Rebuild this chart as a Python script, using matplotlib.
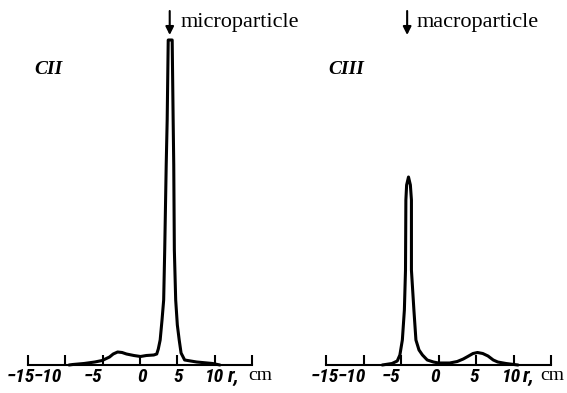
import matplotlib
matplotlib.use('Agg')
import matplotlib.pyplot as plt

# --- data (r in cm, intensity in arbitrary units) ---
r_micro = [-9.5, -9.0, -7.5, -6.05, -5.07, -4.08, -3.59, -3.0, -2.4, -1.81, -0.82, 0.07,
           0.85, 1.84, 2.24, 2.45, 2.7, 2.95, 3.17, 3.31, 3.51, 3.64, 3.78,
           4.31, 4.44, 4.52, 4.6, 4.78, 5.0, 5.25, 5.5, 5.98, 7.59, 9.73, 10.7]
i_micro = [0, 0.5, 1.5, 3, 4.5, 8, 11, 13, 12.5, 11, 9.5, 8.5,
           9.5, 10, 11, 16, 25, 45, 65, 115, 200, 245, 325,
           325, 245, 200, 115, 65, 40, 25, 12, 5, 3, 1.5, 0]

r_macro = [-7.5, -6.2, -5.5, -5.15, -4.82, -4.55, -4.4, -4.35, -4.25, -4.0,
           -3.75, -3.61, -3.61, -3.28, -3.01, -2.6, -2.14, -1.5, -0.67, 0.0,
           1.5, 2.5, 3.3, 3.9, 4.6, 5.2, 5.9, 6.6, 7.3, 7.9, 9.0, 10.6]
i_macro = [0, 1.5, 4, 10, 25, 55, 95, 165, 180, 188,
           180, 165, 95, 55, 25, 15, 10, 5, 3, 2,
           2, 3.5, 6, 8.5, 11.5, 12.5, 11.5, 9, 5, 3, 1.5, 0]

tick_vals = [-15, -10, -5, 0, 5, 10, 15]
tick_text = ['\u221215', '\u221210', '\u22125', '0', '5', '10']

# label centres (cm) as they sit in the scan, a bit off their ticks
lab_pos_left = [-15.97, -12.36, -6.27, 0.29, 5.18, 10.02]
lab_pos_right = [-15.15, -11.49, -6.3, -0.45, 4.73, 9.79]

W, H = 567, 393
fig = plt.figure(figsize=(W / 100, H / 100), dpi=100)

num_font = ['DejaVu Sans Condensed', 'Liberation Sans Narrow', 'Roboto Condensed', 'Liberation Sans']
serif = 'Liberation Serif'


def make_panel(left_px, width_px, r, inten, lab_pos, rpos, cmpos, name, arrow_r, text_dx, arrow_text):
    ax = fig.add_axes([left_px / W, 28 / H, width_px / W, 365 / H])
    ax.set_xlim(-15, 15)
    ax.set_ylim(0, 365)
    for s in ['top', 'right', 'left']:
        ax.spines[s].set_visible(False)
    ax.spines['bottom'].set_linewidth(1.5)
    ax.set_yticks([])
    ax.set_xticks(tick_vals)
    ax.set_xticklabels([])
    ax.tick_params(axis='x', direction='in', length=7, width=1.5)

    ax.plot(r, inten, color='black', lw=2.2, solid_joinstyle='round',
            solid_capstyle='round', clip_on=False)

    for p, t in zip(lab_pos, tick_text):
        ax.text(p, -12, t, ha='center', va='center', fontsize=14,
                fontweight='bold', fontstyle='italic', family=num_font)
    ax.text(rpos, -12, 'r,', ha='center', va='center', fontsize=15,
            fontweight='bold', fontstyle='italic', family=num_font)
    ax.text(cmpos, -10, 'cm', ha='center', va='center', fontsize=14, family=serif)

    ax.text(-12.3, 296, name, ha='center', va='center', fontsize=14,
            fontweight='bold', fontstyle='italic', family=serif)

    ax.annotate('', xy=(arrow_r, 330), xytext=(arrow_r, 354),
                arrowprops=dict(arrowstyle='-|>', color='black', lw=1.5,
                                mutation_scale=12, shrinkA=0, shrinkB=0),
                annotation_clip=False)
    ax.text(arrow_r + text_dx, 338, arrow_text, ha='left', va='baseline',
            fontsize=16, family=serif)
    return ax


make_panel(28, 224, r_micro, i_micro, lab_pos_left, 12.48, 16.16, 'CII', 3.98, 1.5, 'microparticle')
make_panel(326, 225, r_macro, i_macro, lab_pos_right, 11.9, 15.2, 'CIII', -4.18, 1.3, 'macroparticle')

fig.savefig('out.png', dpi=100)
